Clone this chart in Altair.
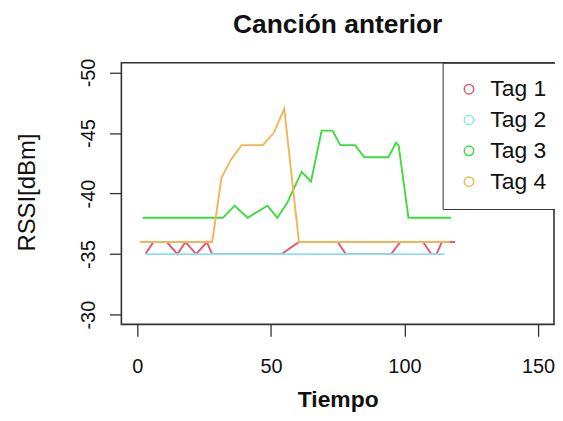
import altair as alt
import pandas as pd

# ---- data ----
tags = ["Tag 1", "Tag 2", "Tag 3", "Tag 4"]
colors = ["#DE5A72", "#86E3F0", "#3EDB3E", "#F5B354"]

tag1_t = [3, 6, 11, 15, 18, 22, 26, 28, 54, 60.5, 75, 78, 95, 98.5, 107, 110, 112, 114, 119]
tag1_v = [-35, -36, -36, -35, -36, -35, -36, -35, -35, -36, -36, -35, -35, -36, -36, -35, -35, -36, -36]

tag2_t = [3, 115]
tag2_v = [-35, -35]

tag3_t = [2, 32, 36.4, 41.3, 48.7, 52.4, 56, 61.5, 65, 69, 73, 76, 81.5, 85, 94, 96.8, 97.8, 101.5, 117.5]
tag3_v = [-38, -38, -39, -38, -39, -38, -39.2, -41.8, -41, -45.2, -45.2, -44, -44, -43, -43, -44.2, -44, -38, -38]

tag4_t = [1, 28, 31.5, 35, 39, 47, 51, 55, 60.5, 117]
tag4_v = [-36, -36, -41.3, -42.8, -44, -44, -45, -47, -36, -36]

x_ticks = [0, 50, 100, 150]
y_ticks = [-50, -45, -40, -35, -30]

rows = []
for name, ts, vs in zip(tags, [tag1_t, tag2_t, tag3_t, tag4_t], [tag1_v, tag2_v, tag3_v, tag4_v]):
    for i, (t, v) in enumerate(zip(ts, vs)):
        rows.append({"Tag": name, "Tiempo": t, "RSSI": v, "order": i})
df = pd.DataFrame(rows)

FONT = "Liberation Sans"

chart = alt.Chart(df).mark_line(strokeWidth=1.9, clip=True).encode(
    x=alt.X("Tiempo:Q",
            scale=alt.Scale(domain=[-6, 156], nice=False, zero=False),
            axis=alt.Axis(values=x_ticks, title="Tiempo", grid=False, domain=False,
                          tickSize=12, tickColor="#333", tickWidth=1.3,
                          labelFontSize=20, labelFont=FONT, labelColor="#111",
                          labelExpr="datum.value + ''",
                          labelPadding=20, labelBaseline="top",
                          titleFontSize=23, titleFont=FONT, titleFontWeight="bold",
                          titleColor="#111", titleBaseline="alphabetic", titleY=83)),
    y=alt.Y("RSSI:Q",
            scale=alt.Scale(domain=[-50.8, -29.2], nice=False, zero=False, reverse=True),
            axis=alt.Axis(values=y_ticks, title="RSSI[dBm]", grid=False, domain=False,
                          tickSize=12, tickColor="#333", tickWidth=1.3,
                          labelFontSize=20, labelFont=FONT, labelColor="#111",
                          labelExpr="datum.value + ''",
                          labelAngle=270, labelAlign="center", labelBaseline="alphabetic",
                          labelPadding=15,
                          titleFontSize=24, titleFont=FONT, titleFontWeight="normal",
                          titleColor="#111", titleAngle=270, titleBaseline="alphabetic",
                          titleAlign="center", titleX=-87, titleY=130)),
    color=alt.Color("Tag:N",
                    scale=alt.Scale(domain=tags, range=colors),
                    legend=alt.Legend(title=None, orient="none", legendX=323, legendY=0,
                                      strokeColor="#333", fillColor="white",
                                      padding=15, rowPadding=7,
                                      symbolType="circle", symbolSize=90,
                                      symbolStrokeWidth=1.5, symbolFillColor="white",
                                      labelFontSize=23, labelFont=FONT, labelColor="#111",
                                      labelOffset=10)),
    order="order:Q",
).properties(
    width=435,
    height=263,
    title=alt.TitleParams("Canción anterior", fontSize=26.5, font=FONT, fontWeight="bold",
                          color="#111", anchor="middle", offset=20),
    autosize=alt.AutoSizeParams(type="none"),
    padding={"left": 114, "top": 54, "right": 1, "bottom": 88},
).configure_view(
    stroke="#333", strokeWidth=1.6
)

chart.save("out.html", embed_options={"renderer": "svg", "actions": False})
